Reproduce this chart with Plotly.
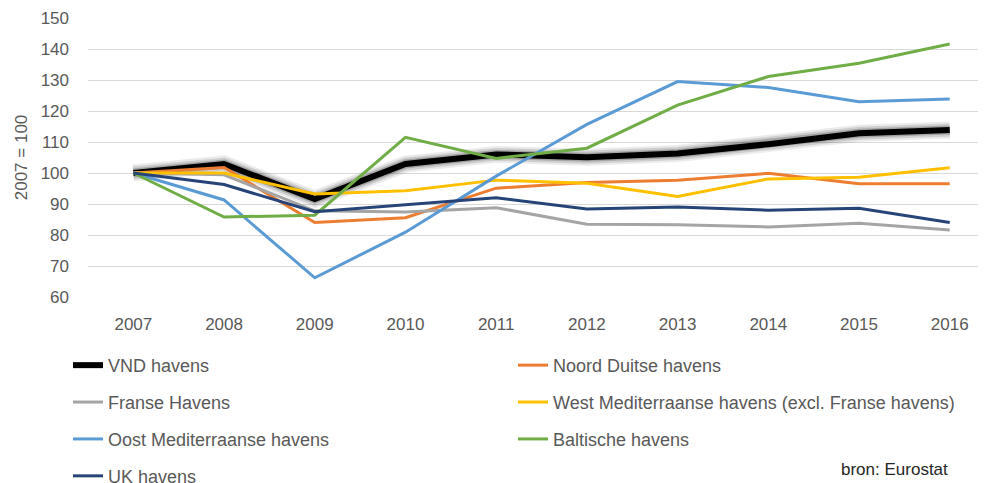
import plotly.graph_objects as go

years = ["2007", "2008", "2009", "2010", "2011", "2012", "2013", "2014", "2015", "2016"]

vnd = [100, 102.9, 91.6, 102.9, 106.0, 105.1, 106.3, 109.3, 112.8, 113.9]
noord_duits = [100, 101.8, 84.0, 85.6, 95.1, 96.9, 97.7, 99.9, 96.5, 96.5]
frans = [100, 99.4, 87.8, 87.4, 88.8, 83.5, 83.3, 82.6, 83.8, 81.6]
west_med = [100, 100.0, 93.2, 94.3, 97.7, 96.7, 92.4, 98.1, 98.6, 101.7]
oost_med = [100, 91.3, 66.2, 80.9, 99.0, 115.7, 129.5, 127.6, 123.0, 123.9]
baltisch = [100, 85.8, 86.4, 111.5, 104.7, 108.0, 121.9, 131.1, 135.4, 141.6]
uk = [100, 96.3, 87.5, 89.7, 92.0, 88.4, 89.0, 88.0, 88.6, 84.0]

TEXT = "#595959"
FONT = "Liberation Sans, Arial, sans-serif"

fig = go.Figure()

# soft shadow under the VND line
for w, a in [(17, 0.08), (13, 0.12), (9, 0.2)]:
    fig.add_trace(go.Scatter(x=years, y=vnd, mode="lines", showlegend=False,
                             hoverinfo="skip",
                             line=dict(color=f"rgba(0,0,0,{a})", width=w)))

series = [
    ("VND havens", vnd, "#000000", 6, "legend"),
    ("Franse Havens", frans, "#A5A5A5", 3, "legend"),
    ("Oost Mediterraanse havens", oost_med, "#5B9BD5", 3, "legend"),
    ("UK havens", uk, "#264478", 3, "legend"),
    ("Noord Duitse havens", noord_duits, "#ED7D31", 3, "legend2"),
    ("West Mediterraanse havens (excl. Franse havens)", west_med, "#FFC000", 3, "legend2"),
    ("Baltische havens", baltisch, "#70AD47", 3, "legend2"),
]
draw_order = [0, 4, 1, 5, 2, 6, 3]
for i in draw_order:
    name, vals, col, w, leg = series[i]
    fig.add_trace(go.Scatter(x=years, y=vals, mode="lines", name=name,
                             legend=leg, legendgroup=name, legendrank=i,
                             line=dict(color=col, width=w)))

legend_common = dict(orientation="v", traceorder="grouped", tracegroupgap=10.5,
                     font=dict(family=FONT, size=18, color=TEXT),
                     bgcolor="rgba(0,0,0,0)", yanchor="top", xanchor="left")

# page body adds 8px around the figure, so the figure is 8px smaller than the window
fig.update_layout(
    width=978, height=475,
    margin=dict(l=80, r=0, t=10, b=186, autoexpand=False),
    plot_bgcolor="white", paper_bgcolor="white",
    font=dict(family=FONT, size=17, color=TEXT),
    legend=dict(x=-0.0223, y=-0.179, **legend_common),
    legend2=dict(x=0.4733, y=-0.179, **legend_common),
    annotations=[dict(text="bron: Eurostat", x=0.96, y=-0.62, xref="paper", yref="paper",
                      xanchor="right", yanchor="middle", showarrow=False,
                      font=dict(family=FONT, size=17, color="#262626"))],
)

fig.update_xaxes(type="category", range=[-0.5, 9.4], showgrid=False, zeroline=False,
                 showline=False, ticks="", ticklabelstandoff=15, automargin=False,
                 tickfont=dict(size=17, color=TEXT))
fig.update_yaxes(range=[60, 150], dtick=10, showgrid=True, gridcolor="#D9D9D9",
                 gridwidth=1, zeroline=False, showline=False, ticks="",
                 ticklabelstandoff=18, tickfont=dict(size=17, color=TEXT),
                 automargin=False,
                 title=dict(text="2007 = 100", standoff=8,
                            font=dict(size=17, color=TEXT)))

fig.write_html("out.html")
